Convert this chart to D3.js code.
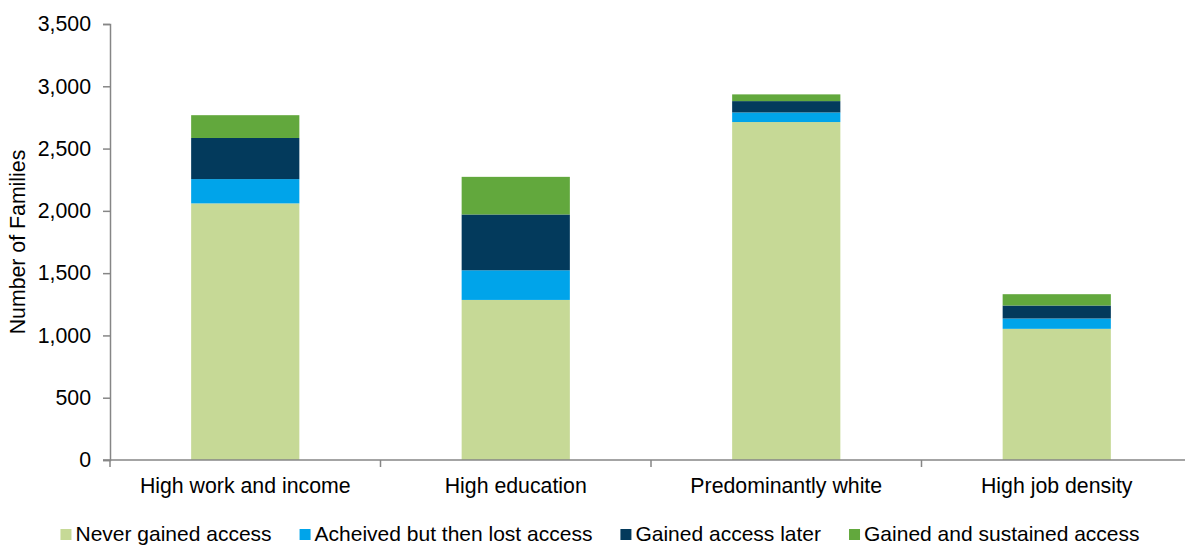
<!DOCTYPE html>
<html>
<head>
<meta charset="utf-8">
<script src="https://cdn.jsdelivr.net/npm/d3@7/dist/d3.min.js"></script>
<style>
  html, body { margin: 0; padding: 0; background: #fff; }
  svg { display: block; }
  text { font-family: "Liberation Sans", Arial, sans-serif; fill: #000; }
</style>
</head>
<body>
<svg id="chart" width="1185" height="547"></svg>
<script>
// Neighbourhood categories
const categories = ["High work and income", "High education", "Predominantly white", "High job density"];

// Series (stacked bottom to top)
const seriesNames = ["Never gained access", "Acheived but then lost access", "Gained access later", "Gained and sustained access"];
const neverGained = [2060, 1285, 2713, 1053];
const gainedThenLost = [195, 238, 77, 83];
const gainedLater = [330, 448, 91, 104];
const gainedSustained = [183, 302, 54, 91];
const seriesColors = ["#c6d996", "#00a4ea", "#033a5c", "#62a83d"];

// Y axis ticks
const yTicks = [0, 500, 1000, 1500, 2000, 2500, 3000, 3500];
const yTitle = "Number of Families";

const svg = d3.select("#chart");
const W = 1185, H = 547;
const margin = { left: 110, right: -7, top: 24, bottom: 87 };
const fs = "21.3px";

const x = d3.scaleBand()
  .domain(categories)
  .range([margin.left, W - margin.right])
  .paddingInner(0.6)
  .paddingOuter(0.3);

const y = d3.scaleLinear()
  .domain([0, 3500])
  .range([H - margin.bottom, margin.top]);

const rows = categories.map((c, i) => ({
  category: c,
  s0: neverGained[i], s1: gainedThenLost[i], s2: gainedLater[i], s3: gainedSustained[i]
}));
const stack = d3.stack().keys(["s0", "s1", "s2", "s3"]);
const layers = stack(rows);

// Bars
svg.append("g").selectAll("g")
  .data(layers)
  .join("g")
  .attr("fill", (d, i) => seriesColors[i])
  .selectAll("rect")
  .data(d => d)
  .join("rect")
  .attr("x", d => x(d.data.category))
  .attr("width", x.bandwidth())
  .attr("y", d => y(d[1]))
  .attr("height", d => y(d[0]) - y(d[1]));

// Y axis
const yAxis = svg.append("g")
  .attr("transform", `translate(${margin.left},0)`)
  .call(d3.axisLeft(y).tickValues(yTicks).tickSize(7).tickPadding(12).tickFormat(d3.format(",")));
yAxis.select(".domain").attr("stroke", "#868686").attr("stroke-width", 1.5);
yAxis.selectAll(".tick line").attr("stroke", "#868686").attr("stroke-width", 1.5);
yAxis.selectAll(".tick text").style("font-size", fs).attr("fill", "#000");

// X axis with boundary tick marks between categories
const x0 = margin.left, x1 = W - margin.right;
const xAxis = svg.append("g").attr("transform", `translate(0,${y(0)})`);
xAxis.append("line")
  .attr("x1", x0 - 7).attr("x2", x1)
  .attr("stroke", "#868686").attr("stroke-width", 1.5);
const boundaries = d3.range(categories.length + 1).map(i => x0 + i * (x1 - x0) / categories.length);
xAxis.selectAll("line.b")
  .data(boundaries)
  .join("line")
  .attr("class", "b")
  .attr("x1", d => d).attr("x2", d => d)
  .attr("y1", 0).attr("y2", 7)
  .attr("stroke", "#868686").attr("stroke-width", 1.5);
xAxis.selectAll("text")
  .data(categories)
  .join("text")
  .attr("x", d => x(d) + x.bandwidth() / 2)
  .attr("y", 33)
  .attr("text-anchor", "middle")
  .style("font-size", fs)
  .text(d => d);

// Y axis title
svg.append("text")
  .attr("transform", `translate(25,${(y(0) + y(3500)) / 2}) rotate(-90)`)
  .attr("text-anchor", "middle")
  .style("font-size", fs)
  .text(yTitle);

// Legend
const legend = svg.append("g");
const sq = 11, sqGap = 4, itemGap = 28;
let cx = 0;
seriesNames.forEach((name, i) => {
  const g = legend.append("g");
  g.append("rect").attr("x", 0).attr("y", -sq - 1).attr("width", sq).attr("height", sq).attr("fill", seriesColors[i]);
  const t = g.append("text").attr("x", sq + sqGap).attr("y", 0).style("font-size", "21px").text(name);
  const w = sq + sqGap + t.node().getComputedTextLength();
  g.attr("transform", `translate(${cx},0)`);
  cx += w + itemGap;
});
const legendWidth = cx - itemGap;
legend.attr("transform", `translate(${600 - legendWidth / 2},541)`);
</script>
</body>
</html>
